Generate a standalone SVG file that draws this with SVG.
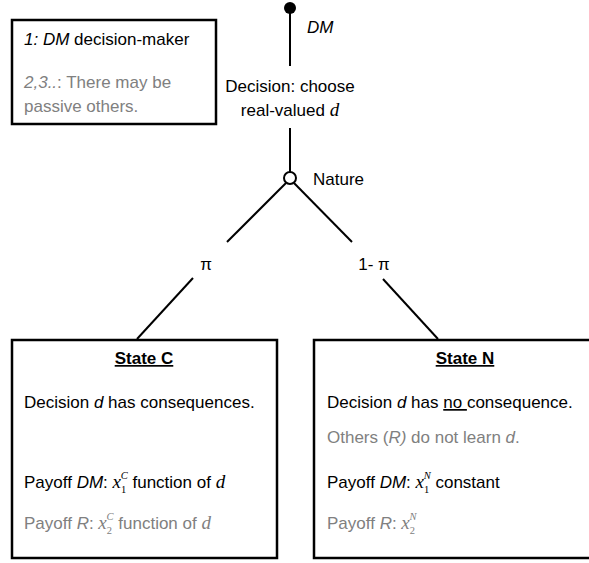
<svg xmlns="http://www.w3.org/2000/svg" width="589" height="563" viewBox="0 0 589 563">
<style>
text{font-family:"Liberation Sans","Open Sans",sans-serif;font-size:17px;fill:#000}
.g{fill:#808080}
.i{font-style:italic}
.b{font-weight:bold;text-decoration:underline}
.m{font-family:"Liberation Serif","DejaVu Serif",serif;font-style:italic;font-size:19px}
.s{font-family:"Liberation Serif","DejaVu Serif",serif;font-size:10.5px}
.si{font-family:"Liberation Serif","DejaVu Serif",serif;font-style:italic;font-size:10.5px}
.box{fill:#fff;stroke:#000;stroke-width:2.5}
.ln{stroke:#000;stroke-width:2;fill:none}
</style>
<rect width="589" height="563" fill="#fff"/>
<g id="connectors">
<line class="ln" x1="290" y1="8" x2="290" y2="66"/>
<line class="ln" x1="290" y1="128" x2="290" y2="172"/>
<line class="ln" x1="286" y1="183" x2="227" y2="242"/>
<line class="ln" x1="193" y1="278" x2="137" y2="339"/>
<line class="ln" x1="294" y1="183" x2="352" y2="242"/>
<line class="ln" x1="383" y1="279" x2="438" y2="339"/>
<text x="206" y="270" text-anchor="middle">π</text>
<text x="374" y="270" text-anchor="middle">1- π</text>
</g>
<g id="legend">
<rect class="box" x="12" y="20" width="204" height="104"/>
<text x="24" y="45"><tspan class="i">1: DM</tspan> decision-maker</text>
<text x="24" y="88" class="g"><tspan class="i">2,3..</tspan>: There may be</text>
<text x="24" y="112" class="g">passive others.</text>
</g>
<g id="dm-node">
<circle cx="290" cy="8" r="6" fill="#000"/>
<text x="307" y="33" class="i" font-size="16">DM</text>
<text x="290" y="92" text-anchor="middle">Decision: choose</text>
<text x="290" y="116" text-anchor="middle">real-valued <tspan class="m">d</tspan></text>
</g>
<g id="nature-node">
<circle cx="290" cy="178" r="6" fill="#fff" stroke="#000" stroke-width="2"/>
<text x="313" y="185">Nature</text>
</g>
<g id="state-c">
<rect class="box" x="12" y="340" width="265" height="218"/>
<text x="144" y="364" text-anchor="middle" class="b">State C</text>
<text x="24" y="408">Decision <tspan class="i">d</tspan> has consequences.</text>
<text x="24" y="488">Payoff <tspan class="i">DM</tspan>: <tspan class="m">x</tspan><tspan class="s" dy="5">1</tspan><tspan class="si" dx="-5.5" dy="-14">C</tspan><tspan dy="9"> function of </tspan><tspan class="m">d</tspan></text>
<text x="24" y="529" class="g">Payoff <tspan class="i">R</tspan>: <tspan class="m g">x</tspan><tspan class="s g" dy="5">2</tspan><tspan class="si g" dx="-5.5" dy="-14">C</tspan><tspan dy="9"> function of  </tspan><tspan class="m g">d</tspan></text>
</g>
<g id="state-n">
<rect class="box" x="314" y="340" width="280" height="218"/>
<text x="465" y="364" text-anchor="middle" class="b">State N</text>
<text x="327" y="408">Decision <tspan class="i">d</tspan> has <tspan text-decoration="underline">no </tspan>consequence.</text>
<text x="327" y="443" class="g">Others (<tspan class="i">R)</tspan> do not learn <tspan class="i">d</tspan>.</text>
<text x="327" y="488">Payoff <tspan class="i">DM</tspan>: <tspan class="m">x</tspan><tspan class="s" dy="5">1</tspan><tspan class="si" dx="-5.5" dy="-14">N</tspan><tspan dy="9"> constant</tspan></text>
<text x="327" y="529" class="g">Payoff <tspan class="i">R</tspan>: <tspan class="m g">x</tspan><tspan class="s g" dy="5">2</tspan><tspan class="si g" dx="-5.5" dy="-14">N</tspan></text>
</g>
</svg>
